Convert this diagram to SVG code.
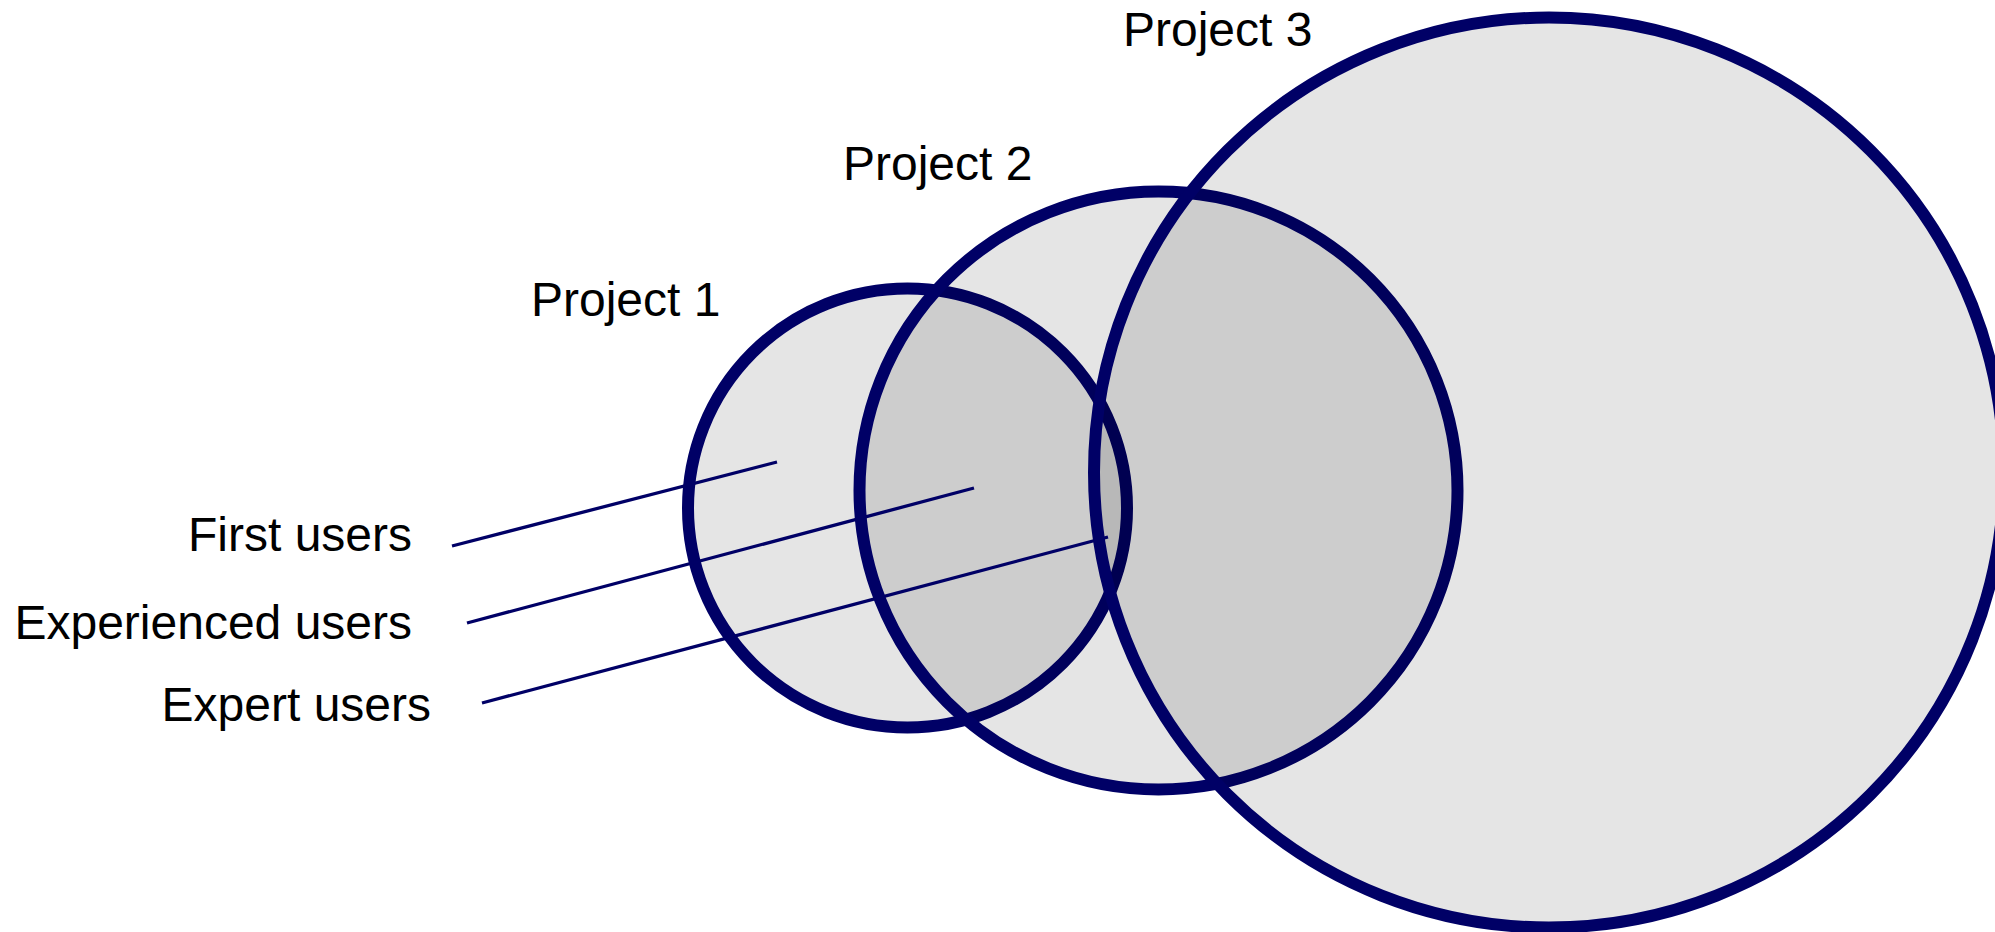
<svg xmlns="http://www.w3.org/2000/svg" width="1995" height="932" viewBox="0 0 1995 932">
<style>
.set{fill:#000000;fill-opacity:0.1;stroke:#000066;stroke-width:12}
.lbl{font-family:"Liberation Sans",Arial,sans-serif;font-size:48px;fill:#000000}
.lead{stroke:#000066;stroke-width:3.3;fill:none}
</style>
<rect x="0" y="0" width="1995" height="932" fill="#ffffff"/>
<g id="project1">
<circle class="set" cx="907.5" cy="508" r="219.5"/>
<text class="lbl" x="531" y="316">Project 1</text>
</g>
<g id="project2">
<circle class="set" cx="1158.5" cy="490.5" r="299"/>
<text class="lbl" x="843" y="180">Project 2</text>
</g>
<g id="project3">
<circle class="set" cx="1549" cy="472.5" r="455"/>
<text class="lbl" x="1123" y="46">Project 3</text>
</g>
<g id="labels">
<text class="lbl" x="412" y="551" text-anchor="end">First users</text>
<text class="lbl" x="412" y="639" text-anchor="end">Experienced users</text>
<text class="lbl" x="431" y="721" text-anchor="end">Expert users</text>
</g>
<g id="connectors">
<line class="lead" x1="452" y1="546" x2="777" y2="462"/>
<line class="lead" x1="467" y1="623" x2="974" y2="488"/>
<line class="lead" x1="482" y1="703" x2="1108" y2="537"/>
</g>
</svg>
